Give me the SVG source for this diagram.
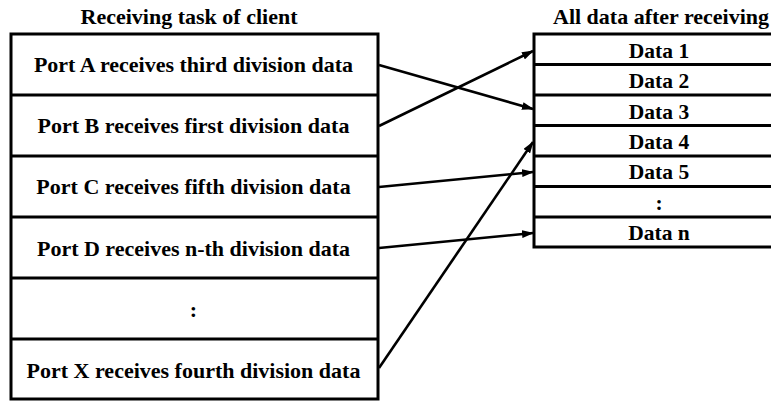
<svg xmlns="http://www.w3.org/2000/svg" width="771" height="401" viewBox="0 0 771 401">
  <style>
    .box { fill: #fff; stroke: #000; stroke-width: 3; }
    .div { stroke: #000; stroke-width: 3; }
    .title { font-family: "Liberation Serif", "Times New Roman", serif; font-weight: bold; font-size: 22px; fill: #000; }
    .port { font-family: "Liberation Serif", "Times New Roman", serif; font-weight: bold; font-size: 22px; text-anchor: middle; fill: #000; }
    .data { font-family: "Liberation Serif", "Times New Roman", serif; font-weight: bold; font-size: 21.5px; text-anchor: middle; fill: #000; }
    .conn { stroke: #000; stroke-width: 2.6; fill: none; marker-end: url(#arrow); }
  </style>
  <defs>
    <marker id="arrow" markerWidth="12" markerHeight="8" refX="11" refY="4" orient="auto" markerUnits="userSpaceOnUse">
      <path d="M0,0 L12,4 L0,8 Z" fill="#000"/>
    </marker>
  </defs>
  <rect width="771" height="401" fill="#fff"/>

  <!-- Left: receiving task of client -->
  <g id="client">
    <text class="title" x="189" y="24" text-anchor="middle">Receiving task of client</text>
    <rect class="box" x="11" y="34" width="367" height="365"/>
    <line class="div" x1="11" y1="95" x2="378" y2="95"/>
    <line class="div" x1="11" y1="156" x2="378" y2="156"/>
    <line class="div" x1="11" y1="217" x2="378" y2="217"/>
    <line class="div" x1="11" y1="278" x2="378" y2="278"/>
    <line class="div" x1="11" y1="339" x2="378" y2="339"/>
  </g>
  <g id="port-a"><text class="port" x="193.5" y="72">Port A receives third division data</text></g>
  <g id="port-b"><text class="port" x="193.5" y="133">Port B receives first division data</text></g>
  <g id="port-c"><text class="port" x="193.5" y="194">Port C receives fifth division data</text></g>
  <g id="port-d"><text class="port" x="193.5" y="256">Port D receives n-th division data</text></g>
  <g id="port-dots"><text class="port" x="193.5" y="317">:</text></g>
  <g id="port-x"><text class="port" x="193.5" y="378">Port X receives fourth division data</text></g>

  <!-- Right: all data after receiving -->
  <g id="result">
    <text class="title" x="553" y="24">All data after receiving</text>
    <rect class="box" x="534" y="34" width="250" height="213"/>
    <line class="div" x1="534" y1="64.5" x2="784" y2="64.5"/>
    <line class="div" x1="534" y1="95" x2="784" y2="95"/>
    <line class="div" x1="534" y1="125.5" x2="784" y2="125.5"/>
    <line class="div" x1="534" y1="156" x2="784" y2="156"/>
    <line class="div" x1="534" y1="186.5" x2="784" y2="186.5"/>
    <line class="div" x1="534" y1="217" x2="784" y2="217"/>
  </g>
  <g id="data-1"><text class="data" x="659" y="58">Data 1</text></g>
  <g id="data-2"><text class="data" x="659" y="88">Data 2</text></g>
  <g id="data-3"><text class="data" x="659" y="118.5">Data 3</text></g>
  <g id="data-4"><text class="data" x="659" y="148.5">Data 4</text></g>
  <g id="data-5"><text class="data" x="659" y="178.5">Data 5</text></g>
  <g id="data-dots"><text class="data" x="659" y="209.5">:</text></g>
  <g id="data-n"><text class="data" x="659" y="240">Data n</text></g>

  <!-- Connectors -->
  <g id="connectors">
    <line class="conn" x1="379" y1="65" x2="533" y2="109"/>
    <line class="conn" x1="379" y1="126" x2="533" y2="51"/>
    <line class="conn" x1="379" y1="187" x2="533" y2="172"/>
    <line class="conn" x1="379" y1="248" x2="533" y2="233"/>
    <line class="conn" x1="379" y1="368" x2="533" y2="142"/>
  </g>
</svg>
